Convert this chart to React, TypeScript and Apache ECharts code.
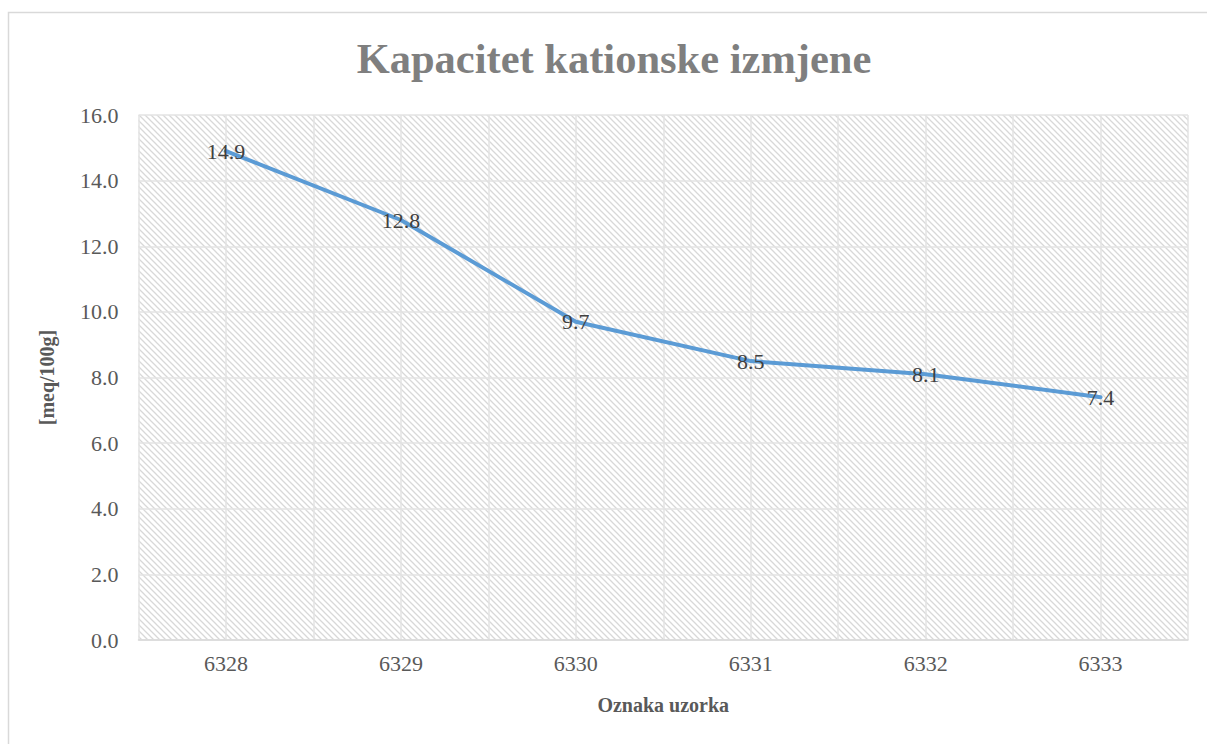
import React, { useEffect, useRef } from "react";
import * as echarts from "echarts";

const categories = ["6328", "6329", "6330", "6331", "6332", "6333"];
const values = [14.9, 12.8, 9.7, 8.5, 8.1, 7.4];
const titleText = "Kapacitet kationske izmjene";
const xAxisName = "Oznaka uzorka";
const yAxisName = "[meq/100g]";

function makeHatch(): HTMLCanvasElement {
  const s = 6;
  const c = document.createElement("canvas");
  c.width = s;
  c.height = s;
  const ctx = c.getContext("2d")!;
  ctx.fillStyle = "#ffffff";
  ctx.fillRect(0, 0, s, s);
  ctx.strokeStyle = "#d8d8d8";
  ctx.lineWidth = 1.3;
  ctx.beginPath();
  ctx.moveTo(-1, -1);
  ctx.lineTo(s + 1, s + 1);
  ctx.moveTo(-1, s - 1);
  ctx.lineTo(1, s + 1);
  ctx.moveTo(s - 1, -1);
  ctx.lineTo(s + 1, 1);
  ctx.stroke();
  return c;
}

export default function App() {
  const ref = useRef<HTMLDivElement>(null);
  useEffect(() => {
    if (!ref.current) return;
    const chart = echarts.init(ref.current, undefined, { renderer: "svg" });
    const hatch = makeHatch();
    const serif = "Liberation Serif";
    chart.setOption({
      animation: false,
      backgroundColor: "#ffffff",
      title: {
        text: titleText,
        left: 609,
        textAlign: "center",
        top: 32,
        textStyle: {
          fontFamily: serif,
          fontWeight: "bold",
          fontSize: 42.5,
          color: "#7f7f7f",
        },
      },
      graphic: [
        {
          type: "rect",
          shape: { x: 8.5, y: 12.5, width: 1300, height: 900 },
          style: { fill: "none", stroke: "#d9d9d9", lineWidth: 1.5 },
          silent: true,
          z: -1,
        },
      ],
      grid: {
        left: 138.5,
        right: 19,
        top: 115,
        bottom: 104,
        show: true,
        borderWidth: 0,
        backgroundColor: { image: hatch, repeat: "repeat" },
      },
      xAxis: [
        {
          type: "category",
          data: categories,
          boundaryGap: true,
          axisLine: { show: true, lineStyle: { color: "#d9d9d9", width: 1.5 } },
          axisTick: { show: false },
          splitLine: { show: false },
          axisLabel: {
            fontFamily: serif,
            fontSize: 22,
            color: "#595959",
            margin: 12,
          },
          name: xAxisName,
          nameLocation: "middle",
          nameGap: 55,
          nameTextStyle: {
            fontFamily: serif,
            fontWeight: "bold",
            fontSize: 20,
            color: "#595959",
          },
        },
        {
          type: "value",
          min: 0,
          max: 12,
          interval: 1,
          position: "bottom",
          axisLine: { show: false },
          axisTick: { show: false },
          axisLabel: { show: false },
          splitLine: { show: true, lineStyle: { color: "#e3e3e3", width: 1.5 } },
        },
      ],
      yAxis: {
        type: "value",
        min: 0,
        max: 16,
        interval: 2,
        axisLine: { show: false },
        axisTick: { show: false },
        splitLine: { show: true, lineStyle: { color: "#e3e3e3", width: 1.5 } },
        axisLabel: {
          fontFamily: serif,
          fontSize: 22,
          color: "#595959",
          margin: 20,
          formatter: (v: number) => v.toFixed(1),
        },
        name: yAxisName,
        nameLocation: "middle",
        nameGap: 82,
        nameRotate: 90,
        nameTextStyle: {
          fontFamily: serif,
          fontWeight: "bold",
          fontSize: 20,
          color: "#595959",
        },
      },
      series: [
        {
          type: "line",
          xAxisIndex: 0,
          data: values,
          symbol: "circle",
          symbolSize: 2,
          showSymbol: true,
          itemStyle: { color: "rgba(91,155,213,0)", borderWidth: 0 },
          lineStyle: { color: "#5b9bd5", width: 4, cap: "round", join: "round" },
          label: {
            show: true,
            position: "inside",
            fontFamily: serif,
            fontSize: 22,
            color: "#404040",
            formatter: (p: any) => Number(p.value).toFixed(1),
          },
          labelLayout: { hideOverlap: false },
          z: 5,
        },
      ],
    });
    return () => chart.dispose();
  }, []);
  return (
    <div
      ref={ref}
      style={{ position: "absolute", left: 0, top: 0, width: 1207, height: 744 }}
    />
  );
}
